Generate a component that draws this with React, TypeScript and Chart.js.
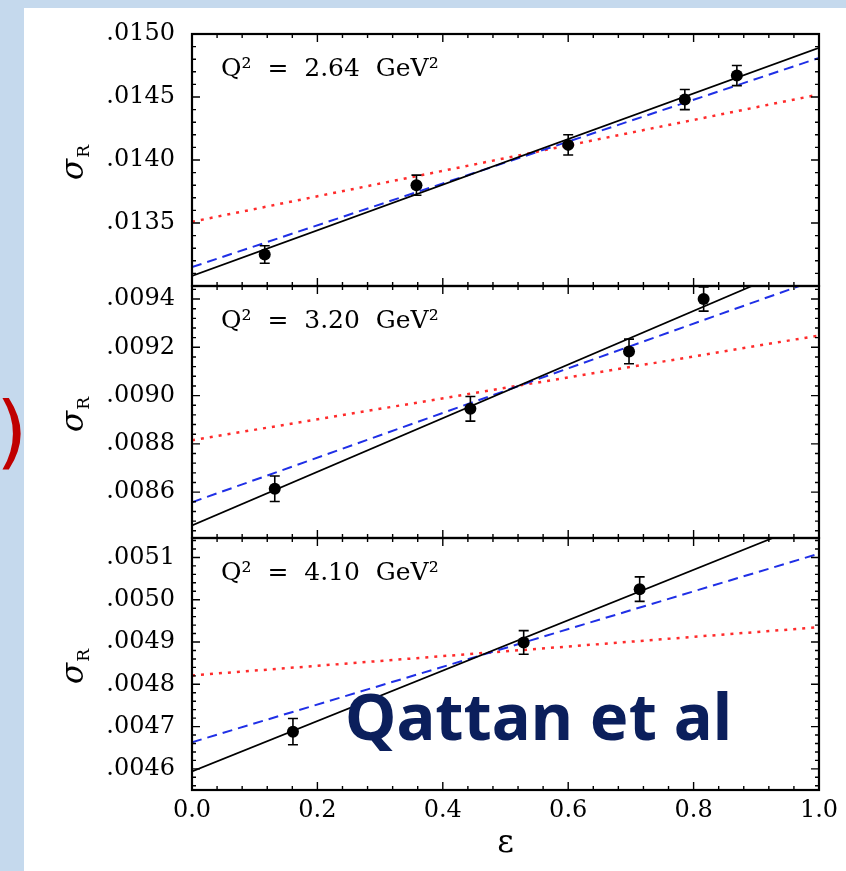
import React, { useEffect, useRef } from 'react';
import { Chart, registerables } from 'chart.js';

Chart.register(...registerables);

// end points (epsilon) of the straight-line fits
const FIT_EPS = [0, 1];

// Q^2 = 2.64 GeV^2
const EPS_264 = [0.116, 0.358, 0.6, 0.786, 0.869];
const SIG_264 = [0.01325, 0.0138, 0.01412, 0.01448, 0.01467];
const ERR_264 = [0.00007, 0.00008, 0.00008, 0.00008, 0.00008];
const FIT_BLACK_264 = [0.01308, 0.01489];
const FIT_BLUE_264 = [0.01315, 0.01481];
const FIT_RED_264 = [0.01351, 0.01452];

// Q^2 = 3.20 GeV^2
const EPS_320 = [0.132, 0.444, 0.697, 0.816];
const SIG_320 = [0.008614, 0.008945, 0.009183, 0.0094];
const ERR_320 = [0.000053, 0.000051, 0.000051, 0.00005];
const FIT_BLACK_320 = [0.008462, 0.009573];
const FIT_BLUE_320 = [0.008558, 0.009483];
const FIT_RED_320 = [0.008815, 0.009249];

// Q^2 = 4.10 GeV^2
const EPS_410 = [0.161, 0.529, 0.714];
const SIG_410 = [0.004688, 0.004899, 0.005025];
const ERR_410 = [0.000031, 0.000028, 0.000029];
const FIT_BLACK_410 = [0.004594, 0.00519];
const FIT_BLUE_410 = [0.004663, 0.005109];
const FIT_RED_410 = [0.004821, 0.004935];

const Q2_LABELS = ['2.64', '3.20', '4.10'];
const Y_MIN = [0.013, 0.00841, 0.00455];
const Y_MAX = [0.015, 0.009454, 0.005146];
const Y_STEP = [0.0005, 0.0002, 0.0001];
const X_STEP = 0.2;

const FONT = "'DejaVu Serif', serif";

const panels = [
  { id: 'y1', eps: EPS_264, sig: SIG_264, err: ERR_264, black: FIT_BLACK_264, blue: FIT_BLUE_264, red: FIT_RED_264 },
  { id: 'y2', eps: EPS_320, sig: SIG_320, err: ERR_320, black: FIT_BLACK_320, blue: FIT_BLUE_320, red: FIT_RED_320 },
  { id: 'y3', eps: EPS_410, sig: SIG_410, err: ERR_410, black: FIT_BLACK_410, blue: FIT_BLUE_410, red: FIT_RED_410 },
].map((p, i) => ({ ...p, q2: Q2_LABELS[i], min: Y_MIN[i], max: Y_MAX[i], step: Y_STEP[i] }));

const framePlugin = {
  id: 'frame',
  beforeDatasetDraw(chart: any, args: any) {
    const ys = chart.scales[args.meta.yAxisID];
    const { left, width } = chart.chartArea;
    const ctx = chart.ctx;
    ctx.save();
    ctx.beginPath();
    ctx.rect(left, ys.top, width, ys.height);
    ctx.clip();
  },
  afterDatasetDraw(chart: any) {
    chart.ctx.restore();
  },
  afterDatasetsDraw(chart: any) {
    const ctx = chart.ctx;
    const xs = chart.scales.x;
    ctx.save();
    ctx.strokeStyle = '#000';
    ctx.lineWidth = 1.6;
    ctx.beginPath();
    panels.forEach((p) => {
      const ys = chart.scales[p.id];
      p.eps.forEach((e, i) => {
        const px = xs.getPixelForValue(e);
        const lo = ys.getPixelForValue(p.sig[i] - p.err[i]);
        const hi = ys.getPixelForValue(p.sig[i] + p.err[i]);
        ctx.moveTo(px, lo); ctx.lineTo(px, hi);
        ctx.moveTo(px - 5, lo); ctx.lineTo(px + 5, lo);
        ctx.moveTo(px - 5, hi); ctx.lineTo(px + 5, hi);
      });
    });
    ctx.stroke();
    ctx.restore();
  },
  afterDraw(chart: any) {
    const { ctx, chartArea } = chart;
    const xs = chart.scales.x;
    const { left, right } = chartArea;
    ctx.save();
    ctx.strokeStyle = '#000';
    ctx.fillStyle = '#000';
    panels.forEach((p) => {
      const ys = chart.scales[p.id];
      const top = ys.top;
      const bottom = ys.bottom;
      // inward tick marks on all four sides
      ctx.lineWidth = 1.4;
      ctx.beginPath();
      const xMinor = X_STEP / 5;
      const nx = Math.round(1 / xMinor);
      for (let k = 0; k <= nx; k++) {
        const px = xs.getPixelForValue(k * xMinor);
        const len = k % 5 === 0 ? 8 : 4;
        ctx.moveTo(px, top); ctx.lineTo(px, top + len);
        ctx.moveTo(px, bottom); ctx.lineTo(px, bottom - len);
      }
      const yMinor = p.step / 5;
      const k0 = Math.ceil(p.min / yMinor - 1e-6);
      const k1 = Math.floor(p.max / yMinor + 1e-6);
      for (let k = k0; k <= k1; k++) {
        const py = ys.getPixelForValue(k * yMinor);
        const len = k % 5 === 0 ? 8 : 4;
        ctx.moveTo(left, py); ctx.lineTo(left + len, py);
        ctx.moveTo(right, py); ctx.lineTo(right - len, py);
      }
      ctx.stroke();
      ctx.lineWidth = 2.2;
      ctx.strokeRect(left, top, right - left, bottom - top);

      // Q^2 label
      ctx.font = `25px ${FONT}`;
      ctx.textAlign = 'left';
      ctx.textBaseline = 'alphabetic';
      ctx.fillText(`Q\u00B2  =  ${p.q2}  GeV\u00B2`, left + 29, top + 42);

      // sigma_R axis title
      ctx.save();
      ctx.translate(75, (top + bottom) / 2 + 3);
      ctx.rotate(-Math.PI / 2);
      ctx.font = `italic 31px ${FONT}`;
      const w1 = ctx.measureText('\u03C3').width;
      ctx.font = `17px ${FONT}`;
      const w2 = ctx.measureText('R').width;
      const start = -(w1 + w2) / 2;
      ctx.font = `italic 31px ${FONT}`;
      ctx.fillText('\u03C3', start, 8);
      ctx.font = `17px ${FONT}`;
      ctx.fillText('R', start + w1 + 1, 14);
      ctx.restore();
    });

    // slide annotations
    ctx.fillStyle = '#c00000';
    ctx.font = "81px 'DejaVu Sans'";
    ctx.fillText(')', -4, 459);
    ctx.fillStyle = '#0b1f5c';
    ctx.font = "bold 65px 'Noto Sans'";
    ctx.fillText('Qattan et al', 345, 740);
    ctx.restore();
  },
};

const App: React.FC = () => {
  const canvasRef = useRef<HTMLCanvasElement>(null);
  const chartRef = useRef<Chart | null>(null);

  useEffect(() => {
    const ctx = canvasRef.current?.getContext('2d');
    if (!ctx) return;
    if (chartRef.current) chartRef.current.destroy();

    const datasets: any[] = [];
    panels.forEach((p) => {
      datasets.push({
        label: `data ${p.q2}`,
        data: p.eps.map((x, i) => ({ x, y: p.sig[i] })),
        yAxisID: p.id,
        showLine: false,
        pointRadius: 6,
        pointBackgroundColor: '#000',
        pointBorderWidth: 0,
        order: 0,
      });
    });
    panels.forEach((p) => {
      datasets.push({
        label: `fit ${p.q2}`,
        data: FIT_EPS.map((x, i) => ({ x, y: p.black[i] })),
        yAxisID: p.id,
        showLine: true,
        pointRadius: 0,
        borderColor: '#000',
        borderWidth: 1.7,
        order: 1,
      });
      datasets.push({
        label: `fit2 ${p.q2}`,
        data: FIT_EPS.map((x, i) => ({ x, y: p.blue[i] })),
        yAxisID: p.id,
        showLine: true,
        pointRadius: 0,
        borderColor: '#1f2fe6',
        borderDash: [10, 6],
        borderWidth: 2,
        order: 2,
      });
      datasets.push({
        label: `fit3 ${p.q2}`,
        data: FIT_EPS.map((x, i) => ({ x, y: p.red[i] })),
        yAxisID: p.id,
        showLine: true,
        pointRadius: 0,
        borderColor: '#ff2b2b',
        borderDash: [3, 6],
        borderWidth: 2.5,
        order: 3,
      });
    });

    const scales: any = {
      x: {
        type: 'linear',
        position: 'bottom',
        min: 0,
        max: 1,
        grid: { display: false, drawTicks: false },
        border: { display: false },
        ticks: {
          stepSize: X_STEP,
          padding: 6,
          color: '#000',
          font: { family: FONT, size: 24 },
          callback: (v: any) => Number(v).toFixed(1),
        },
        title: {
          display: true,
          text: '\u03B5',
          color: '#000',
          font: { family: FONT, size: 32 },
          padding: { top: 0, bottom: 8 },
        },
        afterFit: (s: any) => { s.height = 81; },
      },
    };
    // stacked left axes are laid out last-defined first, so add them bottom-up
    [...panels].reverse().forEach((p) => {
      scales[p.id] = {
        type: 'linear',
        position: 'left',
        stack: 'panels',
        stackWeight: 1,
        min: p.min,
        max: p.max,
        grid: { display: false, drawTicks: false },
        border: { display: false },
        ticks: {
          stepSize: p.step,
          autoSkip: false,
          includeBounds: false,
          padding: 17,
          color: '#000',
          font: { family: FONT, size: 24 },
          callback: (v: any) => {
            const n = Number(v);
            if (Math.abs(n - p.min) < 1e-9) return '';
            return n.toFixed(4).slice(1);
          },
        },
        afterFit: (s: any) => { s.width = 192; },
      };
    });

    chartRef.current = new Chart(ctx, {
      type: 'scatter',
      data: { datasets },
      options: {
        responsive: true,
        maintainAspectRatio: false,
        animation: false,
        layout: { padding: { top: 34, right: 27, left: 0, bottom: 0 } },
        scales,
        plugins: {
          legend: { display: false },
          tooltip: { enabled: false },
        },
      },
      plugins: [framePlugin],
    });

    return () => {
      if (chartRef.current) {
        chartRef.current.destroy();
        chartRef.current = null;
      }
    };
  }, []);

  return (
    <div style={{ position: 'fixed', left: 0, top: 0, width: 846, height: 871, background: '#c5d9ed' }}>
      <div style={{ position: 'absolute', left: 24, top: 8, right: 0, bottom: 0, background: '#fff' }} />
      <div style={{ position: 'absolute', left: 0, top: 0, width: 846, height: 871 }}>
        <canvas ref={canvasRef} />
      </div>
    </div>
  );
};

export default App;
